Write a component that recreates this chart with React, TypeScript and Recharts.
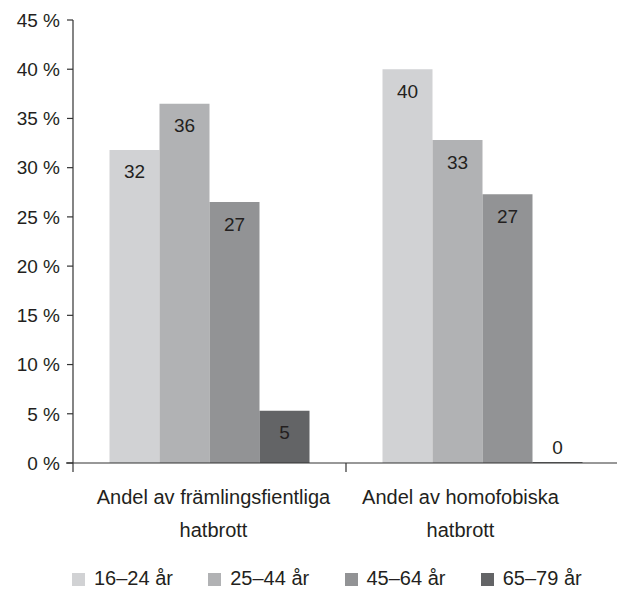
import React from 'react';
import { BarChart, Bar, XAxis, YAxis, Legend, LabelList } from 'recharts';

// categories, split into the two printed lines
const categoryLines = [
  ['Andel av främlingsfientliga', 'hatbrott'],
  ['Andel av homofobiska', 'hatbrott'],
];
const categories = categoryLines.map(l => l.join(' '));

const ageGroups = ['16–24 år', '25–44 år', '45–64 år', '65–79 år'];

// bar heights in percent
const age1624 = [31.8, 40.0];
const age2544 = [36.5, 32.8];
const age4564 = [26.5, 27.3];
const age6579 = [5.3, 0];

// numbers printed on the bars
const label1624 = [32, 40];
const label2544 = [36, 33];
const label4564 = [27, 27];
const label6579 = [5, 0];

const yTicks = [0, 5, 10, 15, 20, 25, 30, 35, 40, 45];

const colors = ['#d1d2d4', '#b1b2b4', '#929395', '#636466'];
const textColor = '#231f20';
const axisColor = '#333333';
const font = '"Liberation Sans", Arial, sans-serif';

const data = categories.map((name, i) => ({
  name,
  a: age1624[i],
  b: age2544[i],
  c: age4564[i],
  d: age6579[i],
  la: label1624[i],
  lb: label2544[i],
  lc: label4564[i],
  ld: label6579[i],
}));

const labelShift = [4, -22];

const CategoryTick = (props: any) => {
  const { x, y, index } = props;
  const half = (props.width ?? 546) / categories.length / 2;
  const bx = x - half;
  const lines = categoryLines[index] || [];
  return (
    <g>
      <line x1={bx} x2={bx} y1={y} y2={y + 9} stroke={axisColor} strokeWidth={1.2} />
      {index === 0 && <line x1={bx - 7} x2={bx} y1={y} y2={y} stroke={axisColor} strokeWidth={1.2} />}
      {lines.map((t, k) => (
        <text
          key={k}
          x={x + labelShift[index]}
          y={y + 41 + k * 33}
          textAnchor="middle"
          fill={textColor}
          fontSize={20}
          fontFamily={font}
        >
          {t}
        </text>
      ))}
    </g>
  );
};

const BarValue = (props: any) => {
  const vb = props.viewBox || {};
  const x = props.x ?? vb.x;
  const y = props.y ?? vb.y;
  const width = props.width ?? vb.width;
  const height = props.height ?? vb.height;
  const zero = !height || Math.abs(height) < 1.5;
  return (
    <text
      x={x + width / 2}
      y={zero ? y - 15 : y + 22}
      textAnchor="middle"
      dominantBaseline="central"
      fill={textColor}
      fontSize={19}
      fontFamily={font}
    >
      {String(props.value)}
    </text>
  );
};

const LegendContent = () => (
  <div style={{ display: 'flex', paddingLeft: 72, height: 24, alignItems: 'center', fontFamily: font, fontSize: 20, color: textColor }}>
    {ageGroups.map((g, i) => (
      <div key={g} style={{ width: 146, display: 'flex', alignItems: 'center' }}>
        <span style={{ width: 13, height: 13, background: colors[i], marginRight: 9, marginTop: 3 }} />
        <span>{g}</span>
      </div>
    ))}
  </div>
);

const App: React.FC = () => {
  return (
    <div style={{ position: 'absolute', left: 0, top: 0, width: 617, height: 590, overflow: 'hidden', background: '#fff' }}>
      <BarChart
        width={630}
        height={590}
        data={data}
        margin={{ top: 20, right: 11, left: 0, bottom: 0 }}
        barCategoryGap={36.5}
        barGap={0}
      >
        <XAxis
          dataKey="name"
          height={103}
          stroke={axisColor}
          strokeWidth={1.2}
          tickLine={false}
          tickSize={0}
          tickMargin={0}
          tick={<CategoryTick />}
          interval={0}
        />
        <YAxis
          width={73}
          domain={[0, 45]}
          ticks={yTicks}
          interval={0}
          tickFormatter={(v: number) => `${v} %`}
          stroke={axisColor}
          strokeWidth={1.2}
          tickSize={6}
          tickMargin={7}
          tick={{ fill: textColor, fontSize: 19, fontFamily: font }}
        />
        <Legend
          verticalAlign="bottom"
          height={24}
          wrapperStyle={{ left: 0, width: 617 }}
          content={<LegendContent />}
        />
        <Bar dataKey="a" name={ageGroups[0]} fill={colors[0]} isAnimationActive={false}>
          <LabelList dataKey="la" content={<BarValue />} />
        </Bar>
        <Bar dataKey="b" name={ageGroups[1]} fill={colors[1]} isAnimationActive={false}>
          <LabelList dataKey="lb" content={<BarValue />} />
        </Bar>
        <Bar dataKey="c" name={ageGroups[2]} fill={colors[2]} isAnimationActive={false}>
          <LabelList dataKey="lc" content={<BarValue />} />
        </Bar>
        <Bar dataKey="d" name={ageGroups[3]} fill={colors[3]} minPointSize={1} isAnimationActive={false}>
          <LabelList dataKey="ld" content={<BarValue />} />
        </Bar>
      </BarChart>
    </div>
  );
};

export default App;
